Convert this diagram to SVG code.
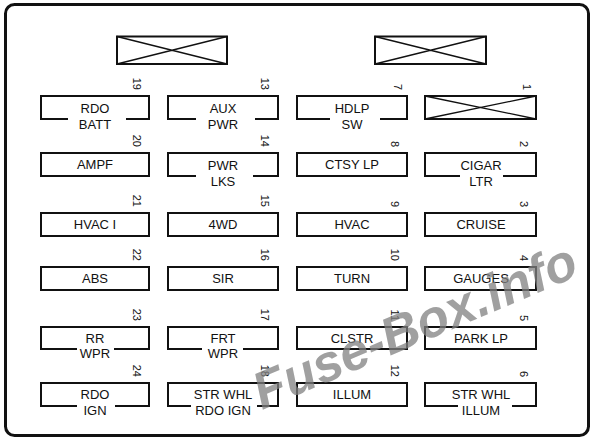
<svg xmlns="http://www.w3.org/2000/svg" width="600" height="443" viewBox="0 0 600 443">
<style>
.bx{fill:none;stroke:#111;stroke-width:2}
.lb{font-family:"Liberation Sans",Arial,sans-serif;font-size:13px;fill:#111;text-anchor:middle}
.nm{font-family:"Liberation Sans",Arial,sans-serif;font-size:11px;fill:#111;text-anchor:end}
.xl{stroke:#111;stroke-width:1.3}
</style>
<rect x="0" y="0" width="600" height="443" fill="#fff"/>
<rect x="5.5" y="4.5" width="583" height="431" rx="9" fill="none" stroke="#111" stroke-width="3"/>
<g id="blank-top-left">
<rect class="bx" x="117" y="36.5" width="110" height="27.5"/>
<path class="xl" d="M117 36.5L227 64M117 64L227 36.5"/>
</g>
<g id="blank-top-right">
<rect class="bx" x="375" y="36.5" width="111" height="27.5"/>
<path class="xl" d="M375 36.5L486 64M375 64L486 36.5"/>
</g>
<!-- column 1 -->
<g id="f19">
<path class="bx" d="M68 119H41V96H149V119H126"/>
<text class="lb" x="95" y="112.5">RDO</text><text class="lb" x="95" y="129">BATT</text>
<text class="nm" transform="translate(133 90) rotate(90)">19</text>
</g>
<g id="f20">
<rect class="bx" x="41" y="153" width="108" height="23"/>
<text class="lb" x="95" y="169">AMPF</text>
<text class="nm" transform="translate(133 147) rotate(90)">20</text>
</g>
<g id="f21">
<rect class="bx" x="41" y="213" width="108" height="23"/>
<text class="lb" x="95" y="229">HVAC I</text>
<text class="nm" transform="translate(133 207) rotate(90)">21</text>
</g>
<g id="f22">
<rect class="bx" x="41" y="267" width="108" height="23"/>
<text class="lb" x="95" y="283">ABS</text>
<text class="nm" transform="translate(133 261) rotate(90)">22</text>
</g>
<g id="f23">
<path class="bx" d="M77 349H41V327H149V349H114"/>
<text class="lb" x="95" y="343">RR</text><text class="lb" x="95" y="358">WPR</text>
<text class="nm" transform="translate(133 321) rotate(90)">23</text>
</g>
<g id="f24">
<path class="bx" d="M77 406H41V383H149V406H115"/>
<text class="lb" x="95" y="399">RDO</text><text class="lb" x="95" y="415">IGN</text>
<text class="nm" transform="translate(133 377) rotate(90)">24</text>
</g>
<!-- column 2 -->
<g id="f13">
<path class="bx" d="M196 119H168V96H278V119H255"/>
<text class="lb" x="223" y="112.5">AUX</text><text class="lb" x="223" y="129">PWR</text>
<text class="nm" transform="translate(261 90) rotate(90)">13</text>
</g>
<g id="f14">
<path class="bx" d="M196 176H168V153H278V176H253"/>
<text class="lb" x="223" y="169.5">PWR</text><text class="lb" x="223" y="186">LKS</text>
<text class="nm" transform="translate(261 147) rotate(90)">14</text>
</g>
<g id="f15">
<rect class="bx" x="168" y="213" width="110" height="23"/>
<text class="lb" x="223" y="229">4WD</text>
<text class="nm" transform="translate(261 207) rotate(90)">15</text>
</g>
<g id="f16">
<rect class="bx" x="168" y="267" width="110" height="23"/>
<text class="lb" x="223" y="283">SIR</text>
<text class="nm" transform="translate(261 261) rotate(90)">16</text>
</g>
<g id="f17">
<path class="bx" d="M202 349H168V327H278V349H243"/>
<text class="lb" x="223" y="343">FRT</text><text class="lb" x="223" y="358">WPR</text>
<text class="nm" transform="translate(261 321) rotate(90)">17</text>
</g>
<g id="f18">
<path class="bx" d="M191 406H168V383H278V406H257"/>
<text class="lb" x="223" y="399">STR WHL</text><text class="lb" x="223" y="415">RDO IGN</text>
<text class="nm" transform="translate(261 377) rotate(90)">18</text>
</g>
<!-- column 3 -->
<g id="f7">
<path class="bx" d="M330 119H297V96H407V119H380"/>
<text class="lb" x="352" y="112.5">HDLP</text><text class="lb" x="352" y="129">SW</text>
<text class="nm" transform="translate(394 90) rotate(90)">7</text>
</g>
<g id="f8">
<rect class="bx" x="297" y="153" width="110" height="23"/>
<text class="lb" x="352" y="169">CTSY LP</text>
<text class="nm" transform="translate(391 147) rotate(90)">8</text>
</g>
<g id="f9">
<rect class="bx" x="297" y="213" width="110" height="23"/>
<text class="lb" x="352" y="229">HVAC</text>
<text class="nm" transform="translate(391 207) rotate(90)">9</text>
</g>
<g id="f10">
<rect class="bx" x="297" y="267" width="110" height="23"/>
<text class="lb" x="352" y="283">TURN</text>
<text class="nm" transform="translate(391 261) rotate(90)">10</text>
</g>
<g id="f11">
<rect class="bx" x="297" y="327" width="110" height="22"/>
<text class="lb" x="352" y="343">CLSTR</text>
<text class="nm" transform="translate(391 321) rotate(90)">11</text>
</g>
<g id="f12">
<rect class="bx" x="297" y="383" width="110" height="23"/>
<text class="lb" x="352" y="399">ILLUM</text>
<text class="nm" transform="translate(391 377) rotate(90)">12</text>
</g>
<!-- column 4 -->
<g id="f1">
<rect class="bx" x="425" y="96" width="111" height="23"/>
<path class="xl" d="M425 96L536 119M425 119L536 96"/>
<text class="nm" transform="translate(523 90) rotate(90)">1</text>
</g>
<g id="f2">
<path class="bx" d="M460 176H425V153H536V176H503"/>
<text class="lb" x="481" y="169.5">CIGAR</text><text class="lb" x="481" y="186">LTR</text>
<text class="nm" transform="translate(520 147) rotate(90)">2</text>
</g>
<g id="f3">
<rect class="bx" x="425" y="213" width="111" height="23"/>
<text class="lb" x="481" y="229">CRUISE</text>
<text class="nm" transform="translate(520 207) rotate(90)">3</text>
</g>
<g id="f4">
<rect class="bx" x="425" y="267" width="111" height="23"/>
<text class="lb" x="481" y="283">GAUGES</text>
<text class="nm" transform="translate(520 261) rotate(90)">4</text>
</g>
<g id="f5">
<rect class="bx" x="425" y="327" width="111" height="22"/>
<text class="lb" x="481" y="343">PARK LP</text>
<text class="nm" transform="translate(520 321) rotate(90)">5</text>
</g>
<g id="f6">
<path class="bx" d="M458 406H425V383H536V406H512"/>
<text class="lb" x="481" y="399">STR WHL</text><text class="lb" x="481" y="415">ILLUM</text>
<text class="nm" transform="translate(520 377) rotate(90)">6</text>
</g>
<g id="connectors"/>
<text x="262" y="410" transform="rotate(-23 262 410)" font-family="'Liberation Sans',Arial,sans-serif" font-weight="bold" font-style="italic" font-size="52" fill="#808080" fill-opacity="0.75">Fuse-Box.info</text>
</svg>
